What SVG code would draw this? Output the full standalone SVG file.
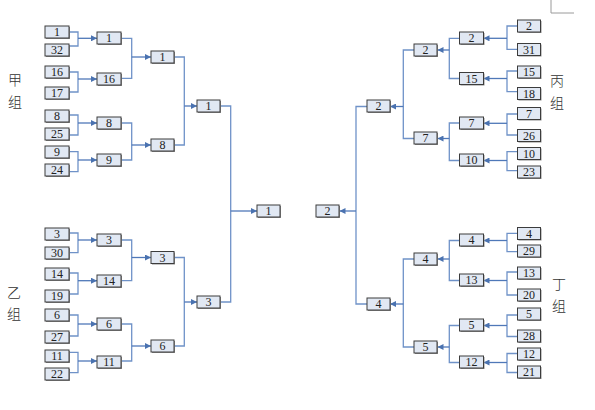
<svg xmlns="http://www.w3.org/2000/svg" width="595" height="410" viewBox="0 0 595 410">
<style>
.s{fill:#8c8c8c}
.b{fill:#e1e8f3;stroke:#3c3c3c;stroke-width:1}
.t{font-family:"Liberation Serif","Times New Roman",serif;font-size:12px;fill:#222;text-anchor:middle}
.c{fill:none;stroke:#6f92c8;stroke-width:1.3}
.a{fill:none;stroke:#4f78b8;stroke-width:1.3;marker-end:url(#ah)}
.z{font-family:"Noto Sans CJK SC","Noto Sans",sans-serif;font-size:14px;font-weight:300;fill:#333;text-anchor:middle}
</style>
<defs>
<marker id="ah" markerUnits="userSpaceOnUse" markerWidth="6" markerHeight="6" refX="6" refY="3" orient="auto">
<path d="M0,0 L6,3 L0,6 z" fill="#4a72b0"/>
</marker>
</defs>
<rect width="595" height="410" fill="#fff"/>
<path d="M551 0 V13 H574" fill="none" stroke="#9a9a9a" stroke-width="1"/>

<g id="connectors">
<path class="c" d="M69 32 H78 V46 H69"/><path class="a" d="M78 38.3 H97"/>
<path class="c" d="M69 72 H78 V92 H69"/><path class="a" d="M78 79 H97"/>
<path class="c" d="M69 115 H78 V135 H69"/><path class="a" d="M78 123 H97"/>
<path class="c" d="M69 151.7 H78 V171.7 H69"/><path class="a" d="M78 160 H97"/>
<path class="c" d="M69 233 H78 V252.7 H69"/><path class="a" d="M78 240 H97"/>
<path class="c" d="M69 273 H78 V294 H69"/><path class="a" d="M78 280.7 H97"/>
<path class="c" d="M69 315 H78 V336 H69"/><path class="a" d="M78 324 H97"/>
<path class="c" d="M69 352.3 H78 V372.7 H69"/><path class="a" d="M78 361 H97"/>
<path class="c" d="M121 38.3 H131.7 V78.3 H121"/><path class="a" d="M131.7 57 H151"/>
<path class="c" d="M121 123 H131.7 V160 H121"/><path class="a" d="M131.7 145 H151"/>
<path class="c" d="M121 240 H131.7 V280.7 H121"/><path class="a" d="M131.7 257.5 H151"/>
<path class="c" d="M121 324 H131.7 V361 H121"/><path class="a" d="M131.7 346 H151"/>
<path class="c" d="M174 57 H184.3 V145 H174"/><path class="a" d="M184.3 106 H197"/>
<path class="c" d="M174 257.5 H184.3 V346 H174"/><path class="a" d="M184.3 302 H197"/>
<path class="c" d="M220 106 H230.7 V302 H220"/><path class="a" d="M230.7 211 H257"/>

<path class="c" d="M517.5 26 H507 V49.3 H517.5"/><path class="a" d="M507 38.3 H483.5"/>
<path class="c" d="M517.5 71 H507 V91.7 H517.5"/><path class="a" d="M507 78.5 H483.5"/>
<path class="c" d="M517.5 114 H507 V135 H517.5"/><path class="a" d="M507 123.3 H483.5"/>
<path class="c" d="M517.5 151.7 H507 V170.7 H517.5"/><path class="a" d="M507 160.5 H483.5"/>
<path class="c" d="M517.5 233.3 H507 V251.7 H517.5"/><path class="a" d="M507 240.5 H483.5"/>
<path class="c" d="M517.5 272 H507 V295 H517.5"/><path class="a" d="M507 280.5 H483.5"/>
<path class="c" d="M517.5 315 H507 V336.5 H517.5"/><path class="a" d="M507 325.5 H483.5"/>
<path class="c" d="M517.5 353.5 H507 V372.5 H517.5"/><path class="a" d="M507 362.5 H483.5"/>
<path class="c" d="M459.5 38.3 H449.3 V78.5 H459.5"/><path class="a" d="M449.3 50 H437.5"/>
<path class="c" d="M459.5 123 H449.3 V160.5 H459.5"/><path class="a" d="M449.3 138.5 H437.5"/>
<path class="c" d="M459.5 240.5 H449.3 V280.5 H459.5"/><path class="a" d="M449.3 259 H437.5"/>
<path class="c" d="M459.5 325.5 H449.3 V362.5 H459.5"/><path class="a" d="M449.3 347 H437.5"/>
<path class="c" d="M414 50 H403.3 V138.5 H414"/><path class="a" d="M403.3 106.5 H390"/>
<path class="c" d="M414 259 H403.3 V347 H414"/><path class="a" d="M403.3 304 H390"/>
<path class="c" d="M367 106.5 H356 V304 H367"/><path class="a" d="M356 211 H339.5"/>
</g>

<g id="labels">
<text class="z" x="15" y="85">甲</text><text class="z" x="15" y="107">组</text>
<text class="z" x="14" y="298">乙</text><text class="z" x="14" y="319">组</text>
<text class="z" x="557" y="86">丙</text><text class="z" x="557" y="108">组</text>
<text class="z" x="559" y="289">丁</text><text class="z" x="559" y="311">组</text>
</g>

<!-- Left column 1 -->
<g id="L1a"><rect class="s" x="46" y="27" width="24" height="12"/><rect class="b" x="45" y="26" width="24" height="12"/><text class="t" x="57" y="36">1</text></g>
<g id="L1b"><rect class="s" x="46" y="45" width="24" height="12"/><rect class="b" x="45" y="44" width="24" height="12"/><text class="t" x="57" y="54">32</text></g>
<g id="L1c"><rect class="s" x="46" y="67" width="24" height="12"/><rect class="b" x="45" y="66" width="24" height="12"/><text class="t" x="57" y="76">16</text></g>
<g id="L1d"><rect class="s" x="46" y="88" width="24" height="12"/><rect class="b" x="45" y="87" width="24" height="12"/><text class="t" x="57" y="97">17</text></g>
<g id="L1e"><rect class="s" x="46" y="111" width="24" height="12"/><rect class="b" x="45" y="110" width="24" height="12"/><text class="t" x="57" y="120">8</text></g>
<g id="L1f"><rect class="s" x="46" y="129" width="24" height="12"/><rect class="b" x="45" y="128" width="24" height="12"/><text class="t" x="57" y="138">25</text></g>
<g id="L1g"><rect class="s" x="46" y="147" width="24" height="12"/><rect class="b" x="45" y="146" width="24" height="12"/><text class="t" x="57" y="156">9</text></g>
<g id="L1h"><rect class="s" x="46" y="165" width="24" height="12"/><rect class="b" x="45" y="164" width="24" height="12"/><text class="t" x="57" y="174">24</text></g>
<g id="L1i"><rect class="s" x="46" y="229" width="24" height="12"/><rect class="b" x="45" y="228" width="24" height="12"/><text class="t" x="57" y="238">3</text></g>
<g id="L1j"><rect class="s" x="46" y="248" width="24" height="12"/><rect class="b" x="45" y="247" width="24" height="12"/><text class="t" x="57" y="257">30</text></g>
<g id="L1k"><rect class="s" x="46" y="269" width="24" height="12"/><rect class="b" x="45" y="268" width="24" height="12"/><text class="t" x="57" y="278">14</text></g>
<g id="L1l"><rect class="s" x="46" y="291" width="24" height="12"/><rect class="b" x="45" y="290" width="24" height="12"/><text class="t" x="57" y="300">19</text></g>
<g id="L1m"><rect class="s" x="46" y="310" width="24" height="12"/><rect class="b" x="45" y="309" width="24" height="12"/><text class="t" x="57" y="319">6</text></g>
<g id="L1n"><rect class="s" x="46" y="332" width="24" height="12"/><rect class="b" x="45" y="331" width="24" height="12"/><text class="t" x="57" y="341">27</text></g>
<g id="L1o"><rect class="s" x="46" y="351" width="24" height="12"/><rect class="b" x="45" y="350" width="24" height="12"/><text class="t" x="57" y="360">11</text></g>
<g id="L1p"><rect class="s" x="46" y="369" width="24" height="12"/><rect class="b" x="45" y="368" width="24" height="12"/><text class="t" x="57" y="378">22</text></g>

<!-- Left column 2 -->
<g id="L2a"><rect class="s" x="98" y="33" width="24" height="12"/><rect class="b" x="97" y="32" width="24" height="12"/><text class="t" x="109" y="42">1</text></g>
<g id="L2b"><rect class="s" x="98" y="74" width="24" height="12"/><rect class="b" x="97" y="73" width="24" height="12"/><text class="t" x="109" y="83">16</text></g>
<g id="L2c"><rect class="s" x="98" y="118" width="24" height="12"/><rect class="b" x="97" y="117" width="24" height="12"/><text class="t" x="109" y="127">8</text></g>
<g id="L2d"><rect class="s" x="98" y="155" width="24" height="12"/><rect class="b" x="97" y="154" width="24" height="12"/><text class="t" x="109" y="164">9</text></g>
<g id="L2e"><rect class="s" x="98" y="235" width="24" height="12"/><rect class="b" x="97" y="234" width="24" height="12"/><text class="t" x="109" y="244">3</text></g>
<g id="L2f"><rect class="s" x="98" y="276" width="24" height="12"/><rect class="b" x="97" y="275" width="24" height="12"/><text class="t" x="109" y="285">14</text></g>
<g id="L2g"><rect class="s" x="98" y="319" width="24" height="12"/><rect class="b" x="97" y="318" width="24" height="12"/><text class="t" x="109" y="328">6</text></g>
<g id="L2h"><rect class="s" x="98" y="357" width="24" height="12"/><rect class="b" x="97" y="356" width="24" height="12"/><text class="t" x="109" y="366">11</text></g>

<!-- Left column 3 -->
<g id="L3a"><rect class="s" x="152" y="52" width="23" height="12"/><rect class="b" x="151" y="51" width="23" height="12"/><text class="t" x="162.5" y="61">1</text></g>
<g id="L3b"><rect class="s" x="152" y="140" width="23" height="12"/><rect class="b" x="151" y="139" width="23" height="12"/><text class="t" x="162.5" y="149">8</text></g>
<g id="L3c"><rect class="s" x="152" y="252.5" width="23" height="12"/><rect class="b" x="151" y="251.5" width="23" height="12"/><text class="t" x="162.5" y="261.5">3</text></g>
<g id="L3d"><rect class="s" x="152" y="341" width="23" height="12"/><rect class="b" x="151" y="340" width="23" height="12"/><text class="t" x="162.5" y="350">6</text></g>

<!-- Left column 4 -->
<g id="L4a"><rect class="s" x="198" y="101" width="23" height="12"/><rect class="b" x="197" y="100" width="23" height="12"/><text class="t" x="208.5" y="110">1</text></g>
<g id="L4b"><rect class="s" x="198" y="297" width="23" height="12"/><rect class="b" x="197" y="296" width="23" height="12"/><text class="t" x="208.5" y="306">3</text></g>

<!-- Final -->
<g id="F1"><rect class="s" x="258" y="206" width="23" height="12"/><rect class="b" x="257" y="205" width="23" height="12"/><text class="t" x="268.5" y="215">1</text></g>
<g id="F2"><rect class="s" x="317" y="206" width="23" height="12"/><rect class="b" x="316" y="205" width="23" height="12"/><text class="t" x="327.5" y="215">2</text></g>

<!-- Right column 4 -->
<g id="R4a"><rect class="s" x="368" y="101" width="23" height="12"/><rect class="b" x="367" y="100" width="23" height="12"/><text class="t" x="378.5" y="110">2</text></g>
<g id="R4b"><rect class="s" x="368" y="299" width="23" height="12"/><rect class="b" x="367" y="298" width="23" height="12"/><text class="t" x="378.5" y="308">4</text></g>

<!-- Right column 3 -->
<g id="R3a"><rect class="s" x="415" y="45" width="23" height="12"/><rect class="b" x="414" y="44" width="23" height="12"/><text class="t" x="425.5" y="54">2</text></g>
<g id="R3b"><rect class="s" x="415" y="133" width="23" height="12"/><rect class="b" x="414" y="132" width="23" height="12"/><text class="t" x="425.5" y="142">7</text></g>
<g id="R3c"><rect class="s" x="415" y="254" width="23" height="12"/><rect class="b" x="414" y="253" width="23" height="12"/><text class="t" x="425.5" y="263">4</text></g>
<g id="R3d"><rect class="s" x="415" y="342" width="23" height="12"/><rect class="b" x="414" y="341" width="23" height="12"/><text class="t" x="425.5" y="351">5</text></g>

<!-- Right column 2 -->
<g id="R2a"><rect class="s" x="460.5" y="33" width="24" height="12"/><rect class="b" x="459.5" y="32" width="24" height="12"/><text class="t" x="471.5" y="42">2</text></g>
<g id="R2b"><rect class="s" x="460.5" y="73.5" width="24" height="12"/><rect class="b" x="459.5" y="72.5" width="24" height="12"/><text class="t" x="471.5" y="82.5">15</text></g>
<g id="R2c"><rect class="s" x="460.5" y="118" width="24" height="12"/><rect class="b" x="459.5" y="117" width="24" height="12"/><text class="t" x="471.5" y="127">7</text></g>
<g id="R2d"><rect class="s" x="460.5" y="155" width="24" height="12"/><rect class="b" x="459.5" y="154" width="24" height="12"/><text class="t" x="471.5" y="164">10</text></g>
<g id="R2e"><rect class="s" x="460.5" y="235" width="24" height="12"/><rect class="b" x="459.5" y="234" width="24" height="12"/><text class="t" x="471.5" y="244">4</text></g>
<g id="R2f"><rect class="s" x="460.5" y="275" width="24" height="12"/><rect class="b" x="459.5" y="274" width="24" height="12"/><text class="t" x="471.5" y="284">13</text></g>
<g id="R2g"><rect class="s" x="460.5" y="320" width="24" height="12"/><rect class="b" x="459.5" y="319" width="24" height="12"/><text class="t" x="471.5" y="329">5</text></g>
<g id="R2h"><rect class="s" x="460.5" y="357" width="24" height="12"/><rect class="b" x="459.5" y="356" width="24" height="12"/><text class="t" x="471.5" y="366">12</text></g>

<!-- Right column 1 -->
<g id="R1a"><rect class="s" x="518.5" y="21" width="23" height="12"/><rect class="b" x="517.5" y="20" width="23" height="12"/><text class="t" x="529" y="30">2</text></g>
<g id="R1b"><rect class="s" x="518.5" y="44.5" width="23" height="12"/><rect class="b" x="517.5" y="43.5" width="23" height="12"/><text class="t" x="529" y="53.5">31</text></g>
<g id="R1c"><rect class="s" x="518.5" y="67" width="23" height="12"/><rect class="b" x="517.5" y="66" width="23" height="12"/><text class="t" x="529" y="76">15</text></g>
<g id="R1d"><rect class="s" x="518.5" y="88.5" width="23" height="12"/><rect class="b" x="517.5" y="87.5" width="23" height="12"/><text class="t" x="529" y="97.5">18</text></g>
<g id="R1e"><rect class="s" x="518.5" y="108.5" width="23" height="12"/><rect class="b" x="517.5" y="107.5" width="23" height="12"/><text class="t" x="529" y="117.5">7</text></g>
<g id="R1f"><rect class="s" x="518.5" y="130.5" width="23" height="12"/><rect class="b" x="517.5" y="129.5" width="23" height="12"/><text class="t" x="529" y="139.5">26</text></g>
<g id="R1g"><rect class="s" x="518.5" y="148.5" width="23" height="12"/><rect class="b" x="517.5" y="147.5" width="23" height="12"/><text class="t" x="529" y="157.5">10</text></g>
<g id="R1h"><rect class="s" x="518.5" y="167" width="23" height="12"/><rect class="b" x="517.5" y="166" width="23" height="12"/><text class="t" x="529" y="176">23</text></g>
<g id="R1i"><rect class="s" x="518.5" y="228.5" width="23" height="12"/><rect class="b" x="517.5" y="227.5" width="23" height="12"/><text class="t" x="529" y="237.5">4</text></g>
<g id="R1j"><rect class="s" x="518.5" y="246" width="23" height="12"/><rect class="b" x="517.5" y="245" width="23" height="12"/><text class="t" x="529" y="255">29</text></g>
<g id="R1k"><rect class="s" x="518.5" y="268" width="23" height="12"/><rect class="b" x="517.5" y="267" width="23" height="12"/><text class="t" x="529" y="277">13</text></g>
<g id="R1l"><rect class="s" x="518.5" y="290" width="23" height="12"/><rect class="b" x="517.5" y="289" width="23" height="12"/><text class="t" x="529" y="299">20</text></g>
<g id="R1m"><rect class="s" x="518.5" y="309" width="23" height="12"/><rect class="b" x="517.5" y="308" width="23" height="12"/><text class="t" x="529" y="318">5</text></g>
<g id="R1n"><rect class="s" x="518.5" y="331" width="23" height="12"/><rect class="b" x="517.5" y="330" width="23" height="12"/><text class="t" x="529" y="340">28</text></g>
<g id="R1o"><rect class="s" x="518.5" y="349" width="23" height="12"/><rect class="b" x="517.5" y="348" width="23" height="12"/><text class="t" x="529" y="358">12</text></g>
<g id="R1p"><rect class="s" x="518.5" y="367" width="23" height="12"/><rect class="b" x="517.5" y="366" width="23" height="12"/><text class="t" x="529" y="376">21</text></g>
</svg>
